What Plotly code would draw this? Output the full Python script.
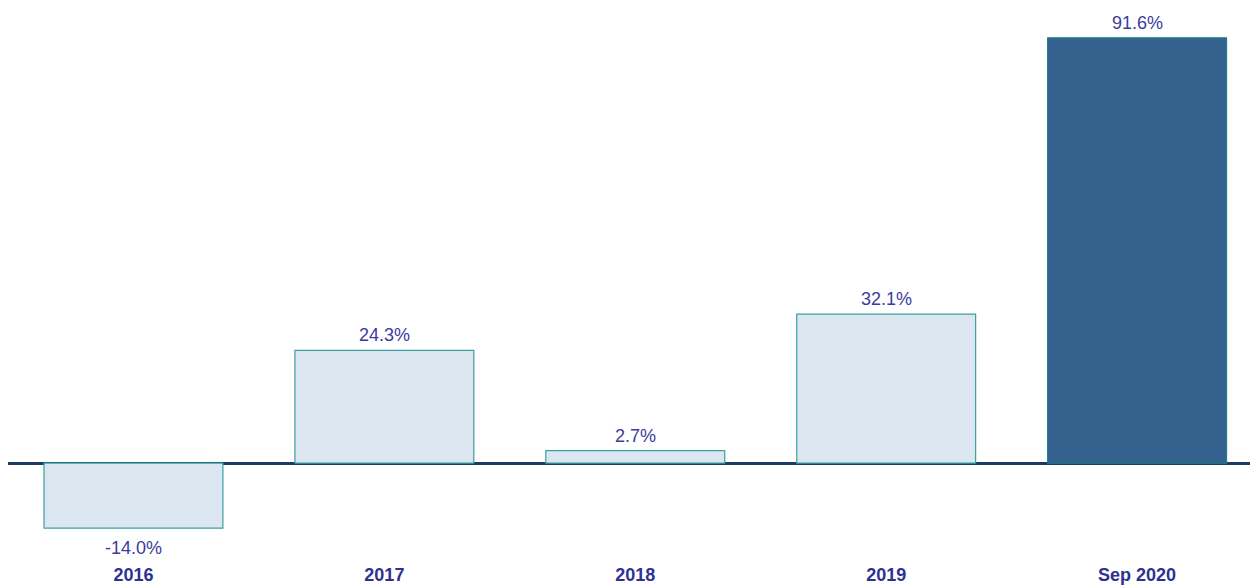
import plotly.graph_objects as go

years = ['2016', '2017', '2018', '2019', 'Sep 2020']
returns = [-14.0, 24.3, 2.7, 32.1, 91.6]
labels = ['-14.0%', '24.3%', '2.7%', '32.1%', '91.6%']

fill_cols = ['#dce6f1', '#dce6f1', '#dce6f1', '#dce6f1', '#35618f']
line_cols = ['#3aa0a0', '#3aa0a0', '#3aa0a0', '#3aa0a0', '#1d7f88']

fig = go.Figure(go.Bar(
    x=years, y=returns,
    marker=dict(color=fill_cols, line=dict(color=line_cols, width=1.2)),
    width=0.713,
))

# value labels above / below bars (index positions on the category axis)
for i, (val, lab) in enumerate(zip(returns, labels)):
    fig.add_annotation(
        x=i, y=val, text=lab, showarrow=False,
        yanchor='bottom' if val >= 0 else 'top',
        yshift=3 if val >= 0 else -8,
        font=dict(family='Liberation Sans, Arial', size=18, color='#3b3ba0'),
    )

fig.update_layout(
    width=1250, height=585,
    plot_bgcolor='white', paper_bgcolor='white',
    margin=dict(l=8, r=0, t=10, b=23),
    showlegend=False,
    xaxis=dict(
        type='category',
        range=[-0.5, 4.45], showgrid=False, showline=False, ticks='',
        tickfont=dict(family='Liberation Sans, Arial', size=18, color='#2e3192'),
    ),
    yaxis=dict(
        range=[-21.3, 97.6], showgrid=False, showticklabels=False,
        zeroline=True, zerolinecolor='#1f3864', zerolinewidth=2.5,
    ),
)
fig.update_xaxes(tickprefix='<b>', ticksuffix='</b>')

fig.write_html('out.html', config={'displayModeBar': False},
               post_script="document.body.style.margin='0';")
